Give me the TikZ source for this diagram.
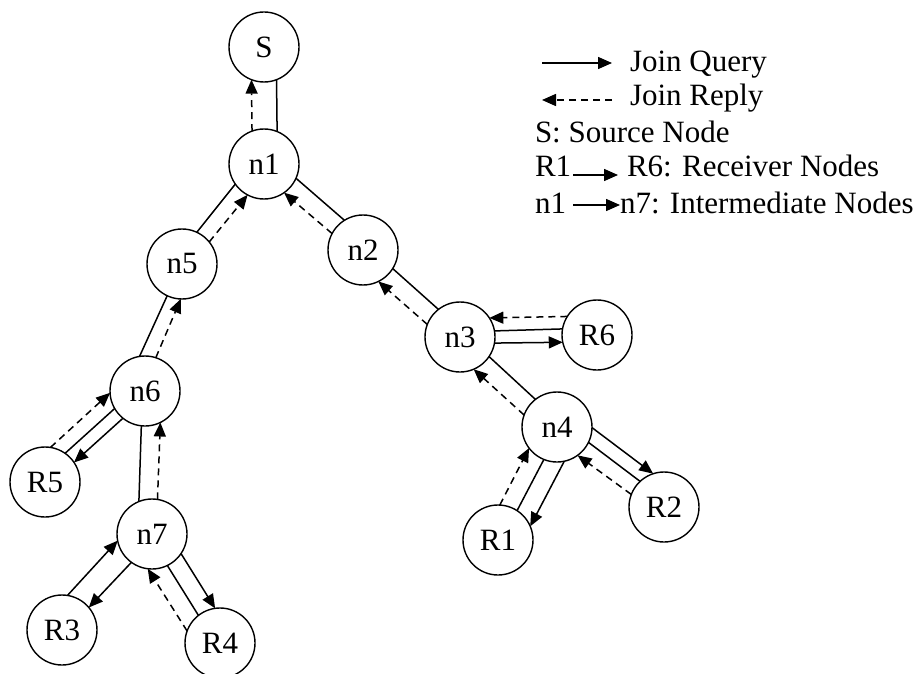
\documentclass[tikz,border=0pt]{standalone}
\usepackage{fontspec}
\setmainfont{Liberation Serif}
\usetikzlibrary{arrows.meta,calc}
\tikzset{
  nd/.style={circle,draw,line width=1.4pt,minimum size=70pt,inner sep=0pt,outer sep=0pt,font=\fontsize{31}{35}\selectfont},
  lbl/.style={inner sep=0pt,outer sep=0pt,anchor=base west,font=\fontsize{31}{35}\selectfont},
  cn/.style={line width=1.5pt},
  qry/.style={cn,-{Triangle[length=14pt,width=12pt]}},
  rep/.style={cn,dash pattern=on 7pt off 5pt,-{Triangle[length=14pt,width=12pt]}}
}
% \edgeln[style]{from}{to}{offset at from}{offset at to}; offsets are to the left of from->to
\newcommand\edgeln[5][cn]{\draw[#1] let \p1=(#2.center),\p2=(#3.center),
  \n1={atan2(\y2-\y1,\x2-\x1)},\n2={int(\n1+asin(#4/35))},\n3={int(\n1+180-asin(#5/35))}
  in (#2.\n2) -- (#3.\n3);}
\begin{document}
\begin{tikzpicture}[x=1pt,y=-1pt]
\path[use as bounding box] (0,0) rectangle (916,674);
% nodes
\node[nd] (S)  at (264,47)  {S};
\node[nd] (n1) at (264,164) {n1};
\node[nd] (n5) at (182,264) {n5};
\node[nd] (n2) at (363,250) {n2};
\node[nd] (n3) at (460,337) {n3};
\node[nd] (R6) at (597,335) {R6};
\node[nd] (n4) at (557,427) {n4};
\node[nd] (R2) at (664,507) {R2};
\node[nd] (R1) at (498,540) {R1};
\node[nd] (n6) at (145,391) {n6};
\node[nd] (R5) at (45,482)  {R5};
\node[nd] (n7) at (152,534) {n7};
\node[nd] (R3) at (62,630)  {R3};
\node[nd] (R4) at (220,643) {R4};
% edges
\edgeln[rep]{n1}{S}{12}{12}  \edgeln{n1}{S}{-13}{-13}
\edgeln{n5}{n1}{9}{9}        \edgeln[rep]{n5}{n1}{-7}{-7}
\edgeln{n1}{n2}{10}{10}      \edgeln[rep]{n2}{n1}{8}{8}
\edgeln{n2}{n3}{6}{6}        \edgeln[rep]{n3}{n2}{13}{13}
\edgeln{n3}{n4}{5}{5}        \edgeln[rep]{n4}{n3}{14}{14}
\edgeln[rep]{R6}{n3}{-19}{-19} \edgeln{n3}{R6}{6}{6} \edgeln[qry]{n3}{R6}{-7}{-7}
\edgeln[qry]{n4}{R2}{20}{20} \edgeln{n4}{R2}{6}{6}   \edgeln[rep]{R2}{n4}{10}{10}
\edgeln[qry]{n4}{R1}{22}{22} \edgeln{n4}{R1}{3}{3}   \edgeln[rep]{R1}{n4}{15}{15}
\edgeln{n6}{n5}{15}{5}       \edgeln[rep]{n6}{n5}{-1}{-9}
\edgeln{n7}{n6}{12}{5}       \edgeln[rep]{n7}{n6}{-7}{-14}
\edgeln[rep]{R5}{n6}{22}{22} \edgeln{n6}{R5}{-8}{-8} \edgeln[qry]{n6}{R5}{5}{5}
\edgeln[qry]{R3}{n7}{20}{20} \edgeln[qry]{n7}{R3}{4}{4}
\edgeln[rep]{R4}{n7}{22}{22} \edgeln{n7}{R4}{-4}{-4} \edgeln[qry]{n7}{R4}{14}{14}
% legend
\coordinate (q1) at (542,63);  \coordinate (q2) at (612,63);
\draw[qry] (q1) -- (q2);
\node[lbl] (tq) at (630,72) {Join Query};
\coordinate (r1) at (612,100); \coordinate (r2) at (542,100);
\draw[rep] (r1) -- (r2);
\node[lbl] (tr) at (630,106) {Join Reply};
\node[lbl] (ts) at (535,143) {S: Source Node};
\node[lbl] (tR1) at (535,177) {R1};
\coordinate (a1) at (573,175); \coordinate (a2) at (618,175);
\draw[qry] (a1) -- (a2);
\node[lbl] (tR6) at (627,177) {R6: Receiver Nodes};
\node[lbl] (tn1) at (535,213) {n1};
\coordinate (b1) at (573,205); \coordinate (b2) at (620,205);
\draw[qry] (b1) -- (b2);
\node[lbl] (tn7) at (620,213) {n7: Intermediate Nodes};
\end{tikzpicture}
\end{document}
